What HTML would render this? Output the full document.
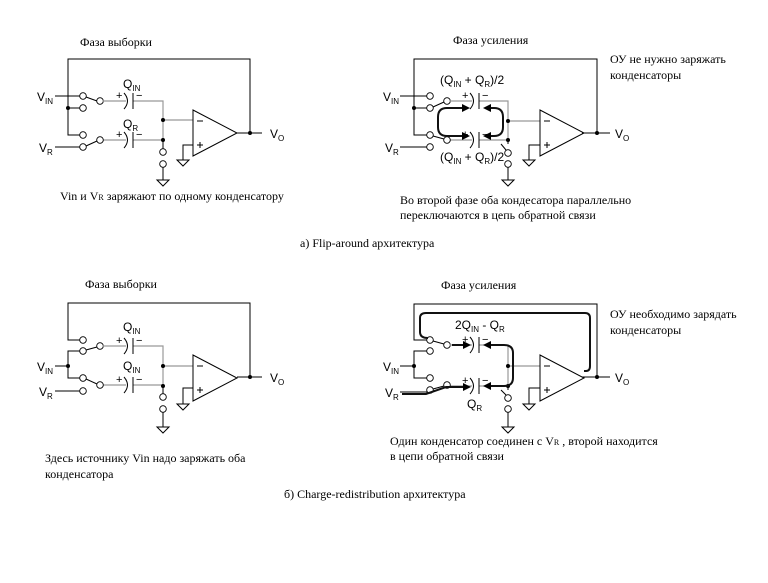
<!DOCTYPE html>
<html><head><meta charset="utf-8"><style>
html,body{margin:0;padding:0;background:#fff;}
svg{display:block;}
.t{font-family:"Liberation Serif",serif;font-size:12px;fill:#000;}
.s{font-family:"Liberation Sans",sans-serif;font-size:12px;fill:#000;}
.sub{font-size:8px;}
.w{stroke:#000;stroke-width:1;fill:none;}
.g{stroke:#999;stroke-width:1.2;fill:none;}
.c{stroke:#000;stroke-width:0.9;fill:#fff;}
.k{stroke:#111;stroke-width:2;fill:none;}
</style></head><body>
<svg width="768" height="583" viewBox="0 0 768 583" xmlns="http://www.w3.org/2000/svg">
<defs>
<g id="oa"><polygon points="0,0 0,46 44,23" fill="#fff" stroke="#000"/><line x1="4" y1="11" x2="10" y2="11" stroke="#000"/><line x1="4" y1="35" x2="10" y2="35" stroke="#000"/><line x1="7" y1="32" x2="7" y2="38" stroke="#000"/></g>
<g id="gnd"><polygon points="-6,0 6,0 0,6" fill="#fff" stroke="#000"/></g>
<g id="cap"><path d="M-4,-8 Q3,0 -4,8" class="w"/><line x1="5" y1="-8" x2="5" y2="8" stroke="#000"/><text x="-12" y="-2" class="s" style="font-size:11px">+</text><text x="8" y="-2" class="s" style="font-size:11px">−</text></g>
<marker id="ar" markerWidth="8" markerHeight="8" refX="6" refY="4" orient="auto" markerUnits="userSpaceOnUse"><path d="M0,0 L8,4 L0,8 z" fill="#000"/></marker>
</defs>

<!-- ===== Top-left ===== -->
<text x="80" y="46" class="t">Фаза выборки</text>
<path d="M250,133 V59 H68 V135 H80" class="w"/>
<path d="M55,96 H80 M68,108 H80" class="w"/>
<circle cx="68" cy="108" r="2" fill="#000"/>
<circle cx="83" cy="96" r="3.3" class="c"/><circle cx="83" cy="108" r="3.3" class="c"/>
<line x1="86" y1="97" x2="97" y2="101" class="w"/><circle cx="100" cy="101" r="3.3" class="c"/>
<path d="M103,101 H126 M133,101 H163 V140 M163,120 H193 M103,140 H126 M133,140 H163" class="g"/>
<use href="#cap" x="128" y="101"/><use href="#cap" x="128" y="140"/>
<path d="M55,147 H80" class="w"/>
<circle cx="83" cy="147" r="3.3" class="c"/><circle cx="83" cy="135" r="3.3" class="c"/>
<line x1="86" y1="146" x2="97" y2="141" class="w"/><circle cx="100" cy="140" r="3.3" class="c"/>
<circle cx="163" cy="120" r="2" fill="#000"/><circle cx="163" cy="140" r="2" fill="#000"/>
<path d="M163,140 V149 M163,167 V180" class="w"/>
<circle cx="163" cy="152" r="3.3" class="c"/><circle cx="163" cy="164" r="3.3" class="c"/>
<use href="#gnd" x="163" y="180"/>
<use href="#oa" x="193" y="110"/>
<path d="M193,145 H183 V160" class="w"/><use href="#gnd" x="183" y="160"/>
<path d="M237,133 H262" class="w"/><circle cx="250" cy="133" r="2" fill="#000"/>
<text x="270" y="138" class="s">V<tspan class="sub" dy="3">O</tspan></text>
<text x="37" y="101" class="s">V<tspan class="sub" dy="3">IN</tspan></text>
<text x="39" y="152" class="s">V<tspan class="sub" dy="3">R</tspan></text>
<text x="123" y="88" class="s">Q<tspan class="sub" dy="3">IN</tspan></text>
<text x="123" y="128" class="s">Q<tspan class="sub" dy="3">R</tspan></text>
<text x="60" y="200" class="t">Vin и V<tspan style="font-size:8px">R</tspan> заряжают по одному конденсатору</text>

<!-- ===== Top-right ===== -->
<text x="453" y="44" class="t">Фаза усиления</text>
<text x="610" y="63" class="t">ОУ не нужно заряжать</text>
<text x="610" y="79" class="t">конденсаторы</text>
<path d="M597,133 V59 H414 V135 H427" class="w"/>
<path d="M400,96 H427 M414,108 H427" class="w"/>
<circle cx="414" cy="108" r="2" fill="#000"/>
<circle cx="430" cy="96" r="3.3" class="c"/><circle cx="430" cy="108" r="3.3" class="c"/>
<line x1="433" y1="107" x2="444" y2="102" class="w"/><circle cx="447" cy="101" r="3.3" class="c"/>
<path d="M450,101 H472 M479,101 H508 V140 M508,121 H540 M450,140 H472 M479,140 H508" class="g"/>
<use href="#cap" x="474" y="101"/><use href="#cap" x="474" y="140"/>
<path d="M400,147 H427" class="w"/>
<circle cx="430" cy="147" r="3.3" class="c"/><circle cx="430" cy="135" r="3.3" class="c"/>
<line x1="433" y1="136" x2="444" y2="139" class="w"/><circle cx="447" cy="140" r="3.3" class="c"/>
<circle cx="508" cy="121" r="2" fill="#000"/><circle cx="508" cy="140" r="2" fill="#000"/>
<path d="M508,140 V144 M501,144 L506,150 M508,167 V180" class="w"/>
<circle cx="508" cy="153" r="3.3" class="c"/>
<circle cx="508" cy="164" r="3.3" class="c"/>
<use href="#gnd" x="508" y="180"/>
<use href="#oa" x="540" y="110"/>
<path d="M540,145 H529 V160" class="w"/><use href="#gnd" x="529" y="160"/>
<path d="M582,133 H610" class="w"/><circle cx="597" cy="133" r="2" fill="#000"/>
<text x="615" y="138" class="s">V<tspan class="sub" dy="3">O</tspan></text>
<text x="383" y="101" class="s">V<tspan class="sub" dy="3">IN</tspan></text>
<text x="385" y="152" class="s">V<tspan class="sub" dy="3">R</tspan></text>
<text x="440" y="84" class="s">(Q<tspan class="sub" dy="3">IN</tspan><tspan dy="-3"> + Q</tspan><tspan class="sub" dy="3">R</tspan><tspan dy="-3">)/2</tspan></text>
<text x="440" y="161" class="s">(Q<tspan class="sub" dy="3">IN</tspan><tspan dy="-3"> + Q</tspan><tspan class="sub" dy="3">R</tspan><tspan dy="-3">)/2</tspan></text>
<path d="M468,108 H447 Q438,108 438,117 V127 Q438,136 447,136 H468" class="k" marker-end="url(#ar)"/>
<path d="M447,108 H468" class="k" marker-end="url(#ar)"/>
<path d="M485,108 H494 Q503,108 503,117 V127 Q503,136 494,136 H485" class="k" marker-end="url(#ar)"/>
<path d="M494,108 H485" class="k" marker-end="url(#ar)"/>
<text x="400" y="204" class="t">Во второй фазе оба кондесатора параллельно</text>
<text x="400" y="219" class="t">переключаются в цепь обратной связи</text>
<text x="300" y="247" class="t">а) Flip-around архитектура</text>

<!-- ===== Bottom-left ===== -->
<text x="85" y="288" class="t">Фаза выборки</text>
<path d="M250,377 V303 H68 V340 H80" class="w"/>
<path d="M55,366 H68 M80,351 H68 V378 H80" class="w"/>
<circle cx="68" cy="366" r="2" fill="#000"/>
<circle cx="83" cy="340" r="3.3" class="c"/><circle cx="83" cy="351" r="3.3" class="c"/>
<line x1="86" y1="350" x2="97" y2="347" class="w"/><circle cx="100" cy="346" r="3.3" class="c"/>
<path d="M103,346 H126 M133,346 H163 V386 M163,366 H193 M103,385 H126 M133,385 H163" class="g"/>
<use href="#cap" x="128" y="346"/><use href="#cap" x="128" y="385"/>
<circle cx="83" cy="378" r="3.3" class="c"/><circle cx="83" cy="391" r="3.3" class="c"/>
<line x1="86" y1="379" x2="97" y2="384" class="w"/><circle cx="100" cy="385" r="3.3" class="c"/>
<path d="M55,391 H80" class="w"/>
<circle cx="163" cy="366" r="2" fill="#000"/><circle cx="163" cy="386" r="2" fill="#000"/>
<path d="M163,386 V394 M163,412 V427" class="w"/>
<circle cx="163" cy="397" r="3.3" class="c"/><circle cx="163" cy="409" r="3.3" class="c"/>
<use href="#gnd" x="163" y="427"/>
<use href="#oa" x="193" y="355"/>
<path d="M193,388 H183 V404" class="w"/><use href="#gnd" x="183" y="404"/>
<path d="M237,377 H262" class="w"/><circle cx="250" cy="377" r="2" fill="#000"/>
<text x="270" y="382" class="s">V<tspan class="sub" dy="3">O</tspan></text>
<text x="37" y="371" class="s">V<tspan class="sub" dy="3">IN</tspan></text>
<text x="39" y="396" class="s">V<tspan class="sub" dy="3">R</tspan></text>
<text x="123" y="331" class="s">Q<tspan class="sub" dy="3">IN</tspan></text>
<text x="123" y="370" class="s">Q<tspan class="sub" dy="3">IN</tspan></text>
<text x="45" y="462" class="t">Здесь источнику Vin надо заряжать оба</text>
<text x="45" y="478" class="t">конденсатора</text>

<!-- ===== Bottom-right ===== -->
<text x="441" y="289" class="t">Фаза усиления</text>
<text x="610" y="318" class="t">ОУ необходимо зарядать</text>
<text x="610" y="334" class="t">конденсаторы</text>
<path d="M597,377 V304 H414 V340 H427" class="w"/>
<path d="M400,366 H414 M427,351 H414 V378 H427" class="w"/>
<circle cx="414" cy="366" r="2" fill="#000"/>
<circle cx="430" cy="340" r="3.3" class="c"/><circle cx="430" cy="351" r="3.3" class="c"/>
<line x1="433" y1="341" x2="444" y2="344" class="w"/><circle cx="447" cy="345" r="3.3" class="c"/>
<path d="M450,345 H472 M479,345 H508 V386 M508,366 H540 M450,386 H472 M479,386 H508" class="g"/>
<use href="#cap" x="474" y="345"/><use href="#cap" x="474" y="386"/>
<circle cx="430" cy="378" r="3.3" class="c"/><circle cx="430" cy="390" r="3.3" class="c"/>
<line x1="433" y1="389" x2="444" y2="386" class="w"/><circle cx="447" cy="385" r="3.3" class="c"/>
<path d="M400,392 H427" class="w"/>
<circle cx="508" cy="366" r="2" fill="#000"/><circle cx="508" cy="386" r="2" fill="#000"/>
<path d="M508,386 V390 M501,390 L506,395 M508,412 V427" class="w"/>
<circle cx="508" cy="398" r="3.3" class="c"/>
<circle cx="508" cy="409" r="3.3" class="c"/>
<use href="#gnd" x="508" y="427"/>
<use href="#oa" x="540" y="355"/>
<path d="M540,388 H529 V404" class="w"/><use href="#gnd" x="529" y="404"/>
<path d="M582,377 H610" class="w"/><circle cx="597" cy="377" r="2" fill="#000"/>
<text x="615" y="382" class="s">V<tspan class="sub" dy="3">O</tspan></text>
<text x="383" y="371" class="s">V<tspan class="sub" dy="3">IN</tspan></text>
<text x="385" y="397" class="s">V<tspan class="sub" dy="3">R</tspan></text>
<text x="455" y="329" class="s">2Q<tspan class="sub" dy="3">IN</tspan><tspan dy="-3"> - Q</tspan><tspan class="sub" dy="3">R</tspan></text>
<text x="467" y="408" class="s">Q<tspan class="sub" dy="3">R</tspan></text>
<path d="M584,371 H586 Q590,371 590,366 V318 Q590,313 585,313 H426 Q420,313 420,318 V332 Q420,338 428,338" class="k"/>
<path d="M452,345 H469" class="k" marker-end="url(#ar)"/>
<path d="M402,394 H426 L446,387 H469" class="k" marker-end="url(#ar)"/>
<path d="M504,345 H485" class="k" marker-end="url(#ar)"/>
<path d="M504,345 Q513,345 513,353 V378 Q513,386 504,386 H485" class="k" marker-end="url(#ar)"/>
<text x="390" y="445" class="t">Один конденсатор соединен с V<tspan style="font-size:8px">R</tspan> , второй находится</text>
<text x="390" y="460" class="t">в цепи обратной связи</text>
<text x="284" y="498" class="t">б) Charge-redistribution архитектура</text>
</svg>
</body></html>
